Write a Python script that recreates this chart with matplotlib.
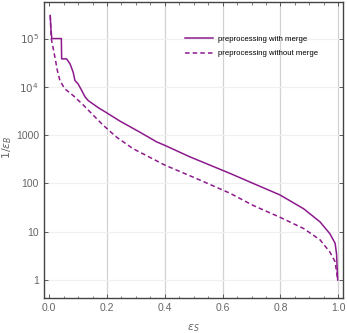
import matplotlib
matplotlib.use("Agg")
import matplotlib.pyplot as plt
from matplotlib.ticker import FixedLocator, MultipleLocator, FixedFormatter

plt.rcParams['font.family'] = ['Liberation Sans', 'DejaVu Sans']

# ----------------------------
# data
# ----------------------------
with_x = [0.0035, 0.006, 0.009, 0.042, 0.043, 0.06, 0.072, 0.083, 0.089, 0.10,
          0.112, 0.124, 0.135, 0.17, 0.199, 0.245, 0.314, 0.372, 0.40, 0.487,
          0.556, 0.625, 0.706, 0.798, 0.88, 0.937, 0.971, 0.989, 0.994, 0.998]
with_y = [3.0e5, 1.55e5, 1.0e5, 1.0e5, 3.8e4, 3.8e4, 3.0e4, 2.0e4, 1.35e4, 1.15e4,
          8.5e3, 6.2e3, 5.2e3, 3.7e3, 2.9e3, 1.95e3, 1.15e3, 725, 615, 355,
          240, 162, 100, 58, 30, 16, 9.1, 5.8, 3.5, 1.0]

without_x = [0.0035, 0.007, 0.014, 0.022, 0.028, 0.037, 0.054, 0.083, 0.118, 0.152,
             0.187, 0.233, 0.29, 0.40, 0.51, 0.625, 0.706, 0.798, 0.88, 0.937,
             0.971, 0.989, 0.994, 0.998]
without_y = [3.0e5, 1.0e5, 6.2e4, 3.5e4, 2.2e4, 1.35e4, 9.1e3, 6.6e3, 4.2e3, 2.6e3,
             1.6e3, 910, 525, 240, 126, 63, 35, 20, 11.7, 6.8,
             3.8, 2.4, 1.5, 1.0]

y_ticks = [1, 10, 100, 1000, 1e4, 1e5]
y_labels = ["1", "10", "100", "1000", r"$10^4$", r"$10^5$"]
x_ticks = [0.0, 0.2, 0.4, 0.6, 0.8, 1.0]

purple = "#8c1a8c"
gray = "#666666"

# ----------------------------
# plot
# ----------------------------
fig = plt.figure(figsize=(3.47, 3.33), dpi=100)
ax = fig.add_axes([0.126, 0.105, 0.863, 0.89])

ax.plot(with_x, with_y, color=purple, lw=1.1, label="preprocessing with merge")
ax.plot(without_x, without_y, color=purple, lw=1.1, ls=(0, (3, 2)),
        label="preprocessing without merge")

ax.set_yscale("log")
ax.set_xlim(-0.019, 1.017)
ax.set_ylim(10 ** -0.372, 10 ** 5.764)

ax.yaxis.set_major_locator(FixedLocator(y_ticks))
ax.yaxis.set_major_formatter(FixedFormatter(y_labels))
ax.yaxis.set_minor_locator(FixedLocator([]))
ax.xaxis.set_major_locator(FixedLocator(x_ticks))
ax.xaxis.set_major_formatter(plt.FormatStrFormatter("%.1f"))
ax.xaxis.set_minor_locator(MultipleLocator(0.05))

# grid
for xv in x_ticks[1:]:
    ax.axvline(xv, color="#d2d2d2", lw=0.9, zorder=0)
for yv in y_ticks:
    ax.axhline(yv, color="#f0f0f0", lw=0.9, zorder=0)

ax.tick_params(which="both", direction="in", top=True, right=True,
               colors="#444444", labelcolor=gray, labelsize=7.5)
ax.tick_params(which="major", length=3, width=0.6)
ax.tick_params(which="minor", length=1.8, width=0.5)
for s in ax.spines.values():
    s.set_color("#444444")
    s.set_linewidth(1.0)

ax.set_xlabel(r"$\epsilon_S$", color=gray, fontsize=8, labelpad=7)
ax.set_ylabel(r"$1/\epsilon_B$", color=gray, fontsize=8)
ax.yaxis.set_label_coords(-0.098, 0.51)

ax.legend(loc="upper left", bbox_to_anchor=(0.45, 0.91), frameon=False,
          fontsize=5.6, handlelength=3.6, handletextpad=0.6, labelspacing=0.9)

fig.savefig("out.png", dpi=100)
